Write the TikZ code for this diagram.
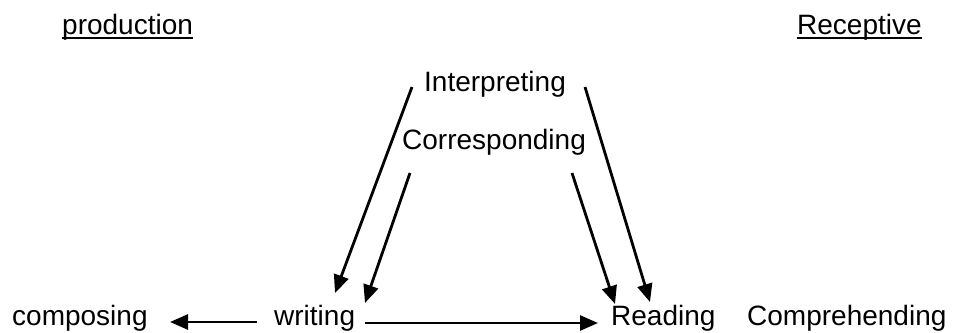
\documentclass[tikz,border=0pt]{standalone}
\usepackage{fontspec}
\setmainfont{Liberation Sans}
\usetikzlibrary{arrows.meta}
\begin{document}
\begin{tikzpicture}[x=1pt,y=1pt,
  lbl/.style={anchor=base west,inner sep=0pt,font=\fontsize{28}{34}\selectfont},
  conn/.style={line width=2.8pt,-{Triangle[length=18pt,width=15pt]}},
  uline/.style={line width=1.6pt}]
\useasboundingbox (0,0) rectangle (958,332);
% labels (y = 332 - pixel row)
\node[lbl] (prod) at (62,297) {production};
\node[lbl] (recep) at (797,297) {Receptive};
\node[lbl] (interp) at (424,240) {Interpreting};
\node[lbl] (corr) at (402,182) {Corresponding};
\node[lbl] (comp) at (12,7) {composing};
\node[lbl] (writ) at (274,7) {writing};
\node[lbl] (read) at (611,7) {Reading};
\node[lbl] (compr) at (747,7) {Comprehending};
% underlines
\draw[uline] ([yshift=-3pt]prod.base west) -- ([yshift=-3pt]prod.base east);
\draw[uline] ([yshift=-3pt]recep.base west) -- ([yshift=-3pt]recep.base east);
% connector end points
\coordinate (iL) at (412,245);
\coordinate (iR) at (585,245);
\coordinate (cL) at (410,159);
\coordinate (cR) at (572,159);
\coordinate (wA) at (335,39);
\coordinate (wB) at (365,29);
\coordinate (rA) at (615,28);
\coordinate (rB) at (650,30);
\coordinate (wl) at (257,10);
\coordinate (cpE) at (170,10);
\coordinate (wr) at (365,9);
\coordinate (rdW) at (598,9);
% connectors
\draw[conn] (iL) -- (wA);
\draw[conn] (cL) -- (wB);
\draw[conn] (iR) -- (rB);
\draw[conn] (cR) -- (rA);
\draw[conn] (wl) -- (cpE);
\draw[conn] (wr) -- (rdW);
\end{tikzpicture}
\end{document}
